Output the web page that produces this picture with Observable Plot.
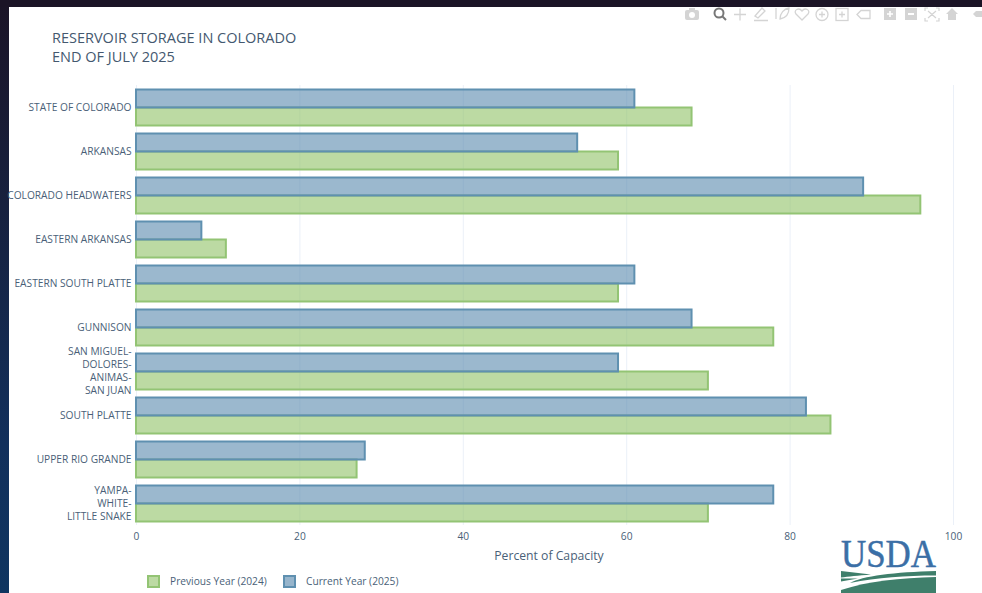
<!DOCTYPE html>
<html>
<head>
<meta charset="utf-8">
<script src="https://cdn.jsdelivr.net/npm/d3@7"></script>
<script src="https://cdn.jsdelivr.net/npm/@observablehq/plot@0.6"></script>
<style>
html,body{margin:0;padding:0;width:982px;height:593px;overflow:hidden;font-family:"Open Sans",sans-serif}
#bg{position:absolute;inset:0;background:linear-gradient(180deg,#1b1426 0%,#17213f 35%,#12305c 75%,#0f3560 100%)}
#bgtop{position:absolute;left:0;top:0;width:982px;height:7px;background:#1b1426}
#panel{position:absolute;left:9px;top:7px;width:973px;height:586px;background:#fff}
#title{position:absolute;left:52px;top:28px;font-size:14.5px;line-height:19px;color:#44586f}
#chart{position:absolute;left:0;top:0}
#chart svg{overflow:visible;background:transparent}
.leg{position:absolute;top:575px;font-size:10.2px;line-height:13px;color:#4a5f78;white-space:nowrap}
.sw{position:absolute;top:575px;width:9px;height:9px;border:2px solid}
#logo,#modebar{position:absolute;left:0;top:0}
</style>
</head>
<body>
<div id="bg"></div><div id="bgtop"></div><div id="panel"></div>
<div id="chart"></div>
<div id="title">RESERVOIR STORAGE IN COLORADO<br>END OF JULY 2025</div>
<div class="sw" style="left:147px;background:#bcdaa3;border-color:#93c474"></div>
<div class="leg" style="left:170px">Previous Year (2024)</div>
<div class="sw" style="left:283px;background:#97b5cc;border-color:#5f90b0"></div>
<div class="leg" style="left:306px">Current Year (2025)</div>

<svg id="modebar" width="982" height="30" fill="#d4d4d4" stroke="none">
  <g id="cam"><rect x="685" y="10" width="14" height="10" rx="2"/><rect x="689" y="8" width="6" height="3"/><circle cx="692" cy="15" r="3" fill="#fff"/></g>
  <circle cx="719" cy="13" r="4.5" fill="none" stroke="#777" stroke-width="2"/><line x1="722" y1="16" x2="726" y2="20" stroke="#777" stroke-width="2"/>
  <g fill="none" stroke="#d4d4d4" stroke-width="1.3">
    <path d="M734 14.5H746M740 8.5V20.5"/>
    <path d="M755 16l7-8 3 3-7 7zM754 20.5H768"/>
    <path d="M776 8v11M780 19c0-6 4-10 9-11 0 6-3 10-9 11z"/>
    <path d="M802 20l-6-6c-3-4 3-7 6-3 3-4 9-1 6 3z"/>
    <circle cx="822" cy="14.5" r="6"/><path d="M819 14.5h6M822 11.5v6"/>
    <rect x="836" y="8.5" width="12" height="12"/><path d="M839 14.5h6M842 11.5v6"/>
    <path d="M857 14.5l4-4h9v8h-9z"/>
  </g>
  <rect x="884" y="8" width="12" height="12"/><path d="M887 13.2h2.2V11h1.6v2.2H893v1.6h-2.2V17h-1.6v-2.2H887z" fill="#fff"/>
  <rect x="905" y="8" width="12" height="12"/><rect x="908" y="13" width="6" height="2" fill="#fff"/>
  <path d="M925 11V8h3M936 8h3v3M939 18v3h-3M928 21h-3v-3M928 11l8 7M936 11l-8 7" fill="none" stroke="#d4d4d4" stroke-width="1.2"/>
  <path d="M946 14l6-6 6 6h-2v6h-8v-6z"/>
  <path d="M973 14l3-3h6v6h-6z"/>
</svg>

<svg id="logo" width="982" height="593">
  <text x="841" y="567" font-family="Liberation Serif" font-size="40" fill="#3b6fa6" stroke="#3b6fa6" stroke-width="0.5" textLength="95" lengthAdjust="spacingAndGlyphs">USDA</text>
  <g fill="#3f7f6b">
    <path d="M841 571L871 574.5C858 575.5 848 576.5 841 577.5Z"/>
    <path d="M936 571V575.5C905 575.5 878 577.5 850 583C862 576 895 572 936 571Z"/>
    <path d="M841 578.5H858L841 581.5Z"/>
    <path d="M936 577V593H841V590C868 581 900 578 936 577Z"/>
  </g>
</svg>

<script>
const categories = ["STATE OF COLORADO","ARKANSAS","COLORADO HEADWATERS","EASTERN ARKANSAS","EASTERN SOUTH PLATTE","GUNNISON","SAN MIGUEL-\nDOLORES-\nANIMAS-\nSAN JUAN","SOUTH PLATTE","UPPER RIO GRANDE","YAMPA-\nWHITE-\nLITTLE SNAKE"];
const current2025 = [61,54,89,8,61,68,59,82,28,78];
const previous2024 = [68,59,96,11,59,78,70,85,27,70];
const seriesNames = ["Current Year (2025)","Previous Year (2024)"];
const xTicks = [0,20,40,60,80,100];
const xTitle = "Percent of Capacity";

const rows = [
  ...categories.map((c,i)=>({cat:c,series:seriesNames[1],v:previous2024[i]})),
  ...categories.map((c,i)=>({cat:c,series:seriesNames[0],v:current2025[i]}))
];

const textColor = "#4a5f78";
const plot = Plot.plot({
  width:982, height:593,
  marginLeft:136, marginRight:29, marginTop:85.5, marginBottom:67.5,
  style:{fontFamily:"'Open Sans',sans-serif",fontSize:"10.2px",color:textColor,background:"transparent"},
  x:{domain:[0,100]},
  y:{domain:seriesNames,padding:0,axis:null},
  fy:{domain:categories,paddingInner:0.1818,paddingOuter:0.0909,label:null},
  color:{domain:seriesNames,range:["#5888ad","#8fc166"]},
  marks:[
    Plot.ruleX(xTicks,{x:d=>d,stroke:"#ebf0f8",strokeWidth:1,strokeOpacity:1,insetTop:-4,insetBottom:-4}),
    Plot.barX(rows,{x:"v",y:"series",fy:"cat",fill:"series",fillOpacity:0.6,
      stroke:d=>d.series===seriesNames[0]?"#5f90b0":"#93c474",strokeWidth:2}),
    Plot.axisX({ticks:xTicks,tickSize:0,tickPadding:11,label:null,fontSize:10.2,fill:textColor}),
    Plot.text([xTitle],{text:d=>d,frameAnchor:"bottom",facet:"super",dx:4,dy:38,fontSize:12.2,fill:textColor}),
    Plot.axisFy({anchor:"left",tickSize:0,tickPadding:5,label:null,lineHeight:1.29,fontSize:10.2,dy:-1,fill:textColor})
  ]
});
document.getElementById("chart").appendChild(plot);
</script>
</body>
</html>
